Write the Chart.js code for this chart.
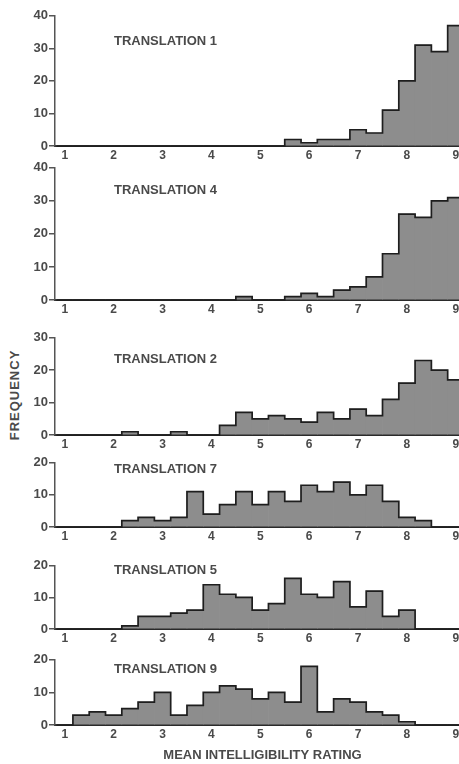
<!DOCTYPE html>
<html>
<head>
<meta charset="utf-8">
<script src="https://cdn.jsdelivr.net/npm/chart.js@4.4.1/dist/chart.umd.min.js"></script>
<style>
  html, body { margin:0; padding:0; background:#fff; overflow:hidden; width:459px; height:764px; position:relative; }
  #freq { position:absolute; left:14px; top:395px; transform:translate(-50%,-50%) rotate(-90deg);
          font:bold 13px "Liberation Sans", Arial, sans-serif; color:#4a4a4a; letter-spacing:1px; white-space:nowrap; }
</style>
</head>
<body>
<div id="freq">FREQUENCY</div>
<script>
// ---- DATA ----
// bin centres (mean of three ratings -> multiples of 1/3), 1 .. 9
const binCenters = [3/3, 4/3, 5/3, 6/3, 7/3, 8/3, 9/3, 10/3, 11/3, 12/3, 13/3, 14/3, 15/3,
                    16/3, 17/3, 18/3, 19/3, 20/3, 21/3, 22/3, 23/3, 24/3, 25/3, 26/3, 27/3];
const xTickLabels = [1, 2, 3, 4, 5, 6, 7, 8, 9];
const panelNames = ['TRANSLATION 1', 'TRANSLATION 4', 'TRANSLATION 2',
                    'TRANSLATION 7', 'TRANSLATION 5', 'TRANSLATION 9'];
const yAxisMax = [40, 40, 30, 20, 20, 20];
const yTickStep = 10;

const countsT1 = [0,0,0,0,0,0,0,0,0,0,0,0,0,0,2,1,2,2,5,4,11,20,31,29,37];
const countsT4 = [0,0,0,0,0,0,0,0,0,0,0,1,0,0,1,2,1,3,4,7,14,26,25,30,31];
const countsT2 = [0,0,0,0,1,0,0,1,0,0,3,7,5,6,5,4,7,5,8,6,11,16,23,20,17];
const countsT7 = [0,0,0,0,2,3,2,3,11,4,7,11,7,11,8,13,11,14,10,13,8,3,2,0,0];
const countsT5 = [0,0,0,0,1,4,4,5,6,14,11,10,6,8,16,11,10,15,7,12,4,6,0,0,0];
const countsT9 = [0,3,4,3,5,7,10,3,6,10,12,11,8,10,7,18,4,8,7,4,3,1,0,0,0];
const allCounts = [countsT1, countsT4, countsT2, countsT7, countsT5, countsT9];
const xAxisTitle = 'MEAN INTELLIGIBILITY RATING';

// ---- LAYOUT (pixels) ----
const panelLayout = [
  { top: 15,  bottom: 146, labelDy: 26 },
  { top: 167, bottom: 300, labelDy: 23 },
  { top: 337, bottom: 435, labelDy: 22 },
  { top: 462, bottom: 527, labelDy: 7 },
  { top: 565, bottom: 629, labelDy: 5 },
  { top: 659, bottom: 725, labelDy: 10 }
];
const PAD_TOP = 8, CANVAS_W = 472, Y_AXIS_W = 55, X_MIN = 0.8, X_MAX = 9.29;
const TEXT = '#4a4a4a';
const FONT_FAMILY = '"Liberation Sans", Arial, sans-serif';

const stepOutline = {
  id: 'stepOutline',
  afterDatasetsDraw(chart) {
    const meta = chart.getDatasetMeta(0);
    const ds = chart.data.datasets[0].data;
    const ctx = chart.ctx;
    const base = chart.scales.y.getPixelForValue(0);
    const a = chart.chartArea;
    ctx.save();
    ctx.beginPath();
    ctx.rect(a.left, a.top - 4, a.right - a.left, a.bottom - a.top + 8);
    ctx.clip();
    ctx.strokeStyle = '#1e1e1e';
    ctx.lineWidth = 1.7;
    ctx.lineJoin = 'miter';
    ctx.beginPath();
    let first = true, lastR = 0;
    meta.data.forEach((bar, k) => {
      const p = bar.getProps(['x', 'y', 'width'], true);
      const l = p.x - p.width / 2, r = p.x + p.width / 2;
      const yy = ds[k].y > 0 ? p.y : base;
      if (first) { ctx.moveTo(l, base); first = false; }
      ctx.lineTo(l, yy);
      ctx.lineTo(r, yy);
      lastR = r;
    });
    ctx.lineTo(lastR, base);
    ctx.stroke();
    ctx.restore();
  }
};

const panelLabel = {
  id: 'panelLabel',
  afterDraw(chart, args, opts) {
    const ctx = chart.ctx, a = chart.chartArea;
    ctx.save();
    ctx.font = 'bold 13px ' + FONT_FAMILY;
    ctx.fillStyle = TEXT;
    ctx.textAlign = 'left';
    ctx.textBaseline = 'middle';
    ctx.fillText(opts.text, a.left + opts.dx, a.top + opts.dy);
    ctx.restore();
  }
};

panelNames.forEach((name, i) => {
  const L = panelLayout[i];
  const isLast = i === panelNames.length - 1;
  const xH = isLast ? 38 : 16;
  const h = PAD_TOP + (L.bottom - L.top) + xH;
  const c = document.createElement('canvas');
  c.width = CANVAS_W; c.height = h;
  c.style.cssText = `position:absolute;left:0;top:${L.top - PAD_TOP}px;width:${CANVAS_W}px;height:${h}px;`;
  document.body.appendChild(c);
  const counts = allCounts[i];
  new Chart(c, {
    type: 'bar',
    data: {
      datasets: [{
        data: binCenters.map((x, k) => ({ x: x, y: counts[k] })),
        backgroundColor: '#8d8d8d',
        borderWidth: 0,
        barPercentage: 1,
        categoryPercentage: 1
      }]
    },
    options: {
      responsive: false,
      animation: false,
      devicePixelRatio: 1,
      layout: { padding: { top: PAD_TOP, left: 0, right: 2, bottom: 0 } },
      plugins: {
        legend: { display: false },
        tooltip: { enabled: false },
        panelLabel: { text: name, dx: 59, dy: L.labelDy }
      },
      scales: {
        x: {
          type: 'linear', min: X_MIN, max: X_MAX, offset: false,
          afterBuildTicks: s => { s.ticks = xTickLabels.map(v => ({ value: v })); },
          afterFit: s => { s.height = xH; },
          grid: { display: false, drawTicks: false },
          border: { display: true, color: '#2a2a2a', width: 2 },
          ticks: { padding: 2, color: TEXT, autoSkip: false, maxRotation: 0,
                   font: { family: FONT_FAMILY, size: 12, weight: 'bold' },
                   callback: v => String(v) },
          title: { display: isLast, text: xAxisTitle, color: TEXT, padding: { top: 0, bottom: 0 },
                   font: { family: FONT_FAMILY, size: 13, weight: 'bold' } }
        },
        y: {
          min: 0, max: yAxisMax[i],
          ticks: { stepSize: yTickStep, padding: 1, color: TEXT,
                   font: { family: FONT_FAMILY, size: 13, weight: 'bold' } },
          afterFit: s => { s.width = Y_AXIS_W; },
          grid: { drawOnChartArea: false, drawTicks: true, tickLength: 6, color: '#555', lineWidth: 1.5 },
          border: { display: true, color: '#555', width: 1.5 }
        }
      }
    },
    plugins: [stepOutline, panelLabel]
  });
});
</script>
</body>
</html>
